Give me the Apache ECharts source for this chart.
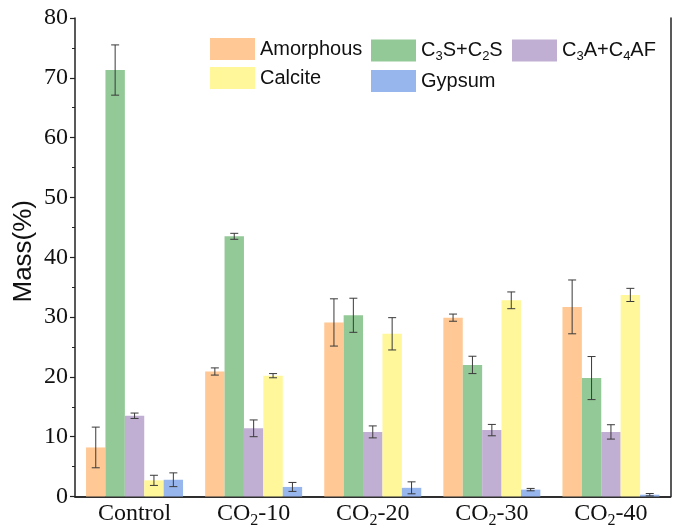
<!DOCTYPE html>
<html><head><meta charset="utf-8">
<script src="https://cdn.jsdelivr.net/npm/echarts/dist/echarts.min.js"></script>
<style>html,body{margin:0;padding:0;background:#fff}#c{width:676px;height:529px}</style>
</head><body><div id="c"></div>
<script>
const categories = ['Control', 'CO2-10', 'CO2-20', 'CO2-30', 'CO2-40'];
const seriesNames = ['Amorphous', 'C3S+C2S', 'C3A+C4AF', 'Calcite', 'Gypsum'];
const amorphous = [8.2, 20.9, 29.1, 29.9, 31.7];
const amorphousErr = [3.4, 0.6, 3.95, 0.6, 4.5];
const c3sc2s = [71.3, 43.5, 30.3, 22.0, 19.8];
const c3sc2sErr = [4.2, 0.5, 2.85, 1.45, 3.6];
const c3ac4af = [13.5, 11.4, 10.8, 11.1, 10.8];
const c3ac4afErr = [0.45, 1.4, 1.0, 0.95, 1.2];
const calcite = [2.7, 20.2, 27.2, 32.8, 33.7];
const calciteErr = [0.85, 0.35, 2.7, 1.4, 1.1];
const gypsum = [2.8, 1.6, 1.45, 1.15, 0.3];
const gypsumErr = [1.15, 0.75, 1.0, 0.2, 0.2];

const values = [amorphous, c3sc2s, c3ac4af, calcite, gypsum];
const errors = [amorphousErr, c3sc2sErr, c3ac4afErr, calciteErr, gypsumErr];
const colors = ['#FFC894', '#93C997', '#C1AFD3', '#FFF799', '#97B6EE'];
const BW = 19.4;

const chart = echarts.init(document.getElementById('c'), null, {renderer: 'canvas'});

function legendFmt(name) {
  if (name === 'C3S+C2S') return '{n|C}{s|3}{n|S+C}{s|2}{n|S}';
  if (name === 'C3A+C4AF') return '{n|C}{s|3}{n|A+C}{s|4}{n|AF}';
  return '{n|' + name + '}';
}
const legendText = {
  fontFamily: 'Liberation Sans', fontSize: 20, color: '#111',
  rich: {
    n: {fontFamily: 'Liberation Sans', fontSize: 20, color: '#111', lineHeight: 22},
    s: {fontFamily: 'Liberation Sans', fontSize: 13, color: '#111', lineHeight: 10, padding: [12, 0, 0, 0]}
  }
};
function mkLegend(left, data) {
  return {
    orient: 'vertical', left: left, top: 38, padding: 0, itemWidth: 45, itemHeight: 22, itemGap: 7,
    icon: 'rect', data: data, formatter: legendFmt, textStyle: legendText, selectedMode: false
  };
}

function errRender(idx) {
  return function (params, api) {
    const c = api.value(0), v = api.value(1), e = api.value(2);
    const pt = api.coord([c, v + e]);
    const pb = api.coord([c, Math.max(0, v - e)]);
    const x = pt[0] + (idx - 2) * BW;
    const cap = 4;
    const st = {stroke: '#3a3a3a', lineWidth: 1};
    return {type: 'group', children: [
      {type: 'line', shape: {x1: x, y1: pt[1], x2: x, y2: pb[1]}, style: st},
      {type: 'line', shape: {x1: x - cap, y1: pt[1], x2: x + cap, y2: pt[1]}, style: st},
      {type: 'line', shape: {x1: x - cap, y1: pb[1], x2: x + cap, y2: pb[1]}, style: st}
    ]};
  };
}

const series = [];
seriesNames.forEach((nm, i) => {
  series.push({
    name: nm, type: 'bar', data: values[i], barWidth: BW, barGap: '0%',
    itemStyle: {color: colors[i]}, z: 2
  });
});
seriesNames.forEach((nm, i) => {
  series.push({
    name: nm + ' err', type: 'custom', xAxisIndex: 0, yAxisIndex: 0,
    renderItem: errRender(i), encode: {x: 0, y: 1}, z: 5,
    data: categories.map((c, j) => [j, values[i][j], errors[i][j]])
  });
});

const axisFont = 'Liberation Serif';
chart.setOption({
  animation: false,
  grid: {left: 75, right: 5.5, top: 18, bottom: 32, containLabel: false},
  legend: [
    mkLegend(210, ['Amorphous', 'Calcite']),
    mkLegend(371, ['C3S+C2S', 'Gypsum']),
    mkLegend(512, ['C3A+C4AF'])
  ],
  xAxis: [{
    type: 'category', data: categories, position: 'bottom',
    axisLine: {show: true, lineStyle: {color: '#222', width: 1.5}},
    axisTick: {show: false},
    axisLabel: {
      interval: 0, margin: 2, fontFamily: axisFont, fontSize: 24, color: '#111', lineHeight: 30,
      formatter: v => v.indexOf('CO2') === 0 ? 'CO{s|2}' + v.slice(3) : v,
      rich: {s: {fontFamily: axisFont, fontSize: 16, color: '#111', lineHeight: 15, padding: [15, 0, 0, 0]}}
    },
    splitLine: {show: false}
  }, {
    type: 'category', data: categories, position: 'top',
    axisLine: {show: true, lineStyle: {color: '#222', width: 1.5}},
    axisTick: {show: false}, axisLabel: {show: false}, splitLine: {show: false}
  }],
  yAxis: [{
    type: 'value', min: 0, max: 80, interval: 10, position: 'left',
    name: 'Mass(%)', nameLocation: 'middle', nameGap: 38, nameMoveOverlap: false,
    nameTextStyle: {fontFamily: 'Liberation Sans', fontSize: 26, color: '#111', padding: [0, 0, 0, 12]},
    axisLine: {show: true, lineStyle: {color: '#222', width: 1.5}},
    axisTick: {show: true, inside: false, length: 5, lineStyle: {color: '#222', width: 1.2}},
    minorTick: {show: true, splitNumber: 2, length: 3, lineStyle: {color: '#222', width: 1}},
    axisLabel: {margin: 7, fontFamily: axisFont, fontSize: 24, color: '#111'},
    splitLine: {show: false}
  }, {
    type: 'value', min: 0, max: 80, interval: 10, position: 'right',
    axisLine: {show: true, lineStyle: {color: '#222', width: 1.5}},
    axisTick: {show: false}, axisLabel: {show: false}, splitLine: {show: false}
  }],
  series: series
});
</script>
</body></html>
